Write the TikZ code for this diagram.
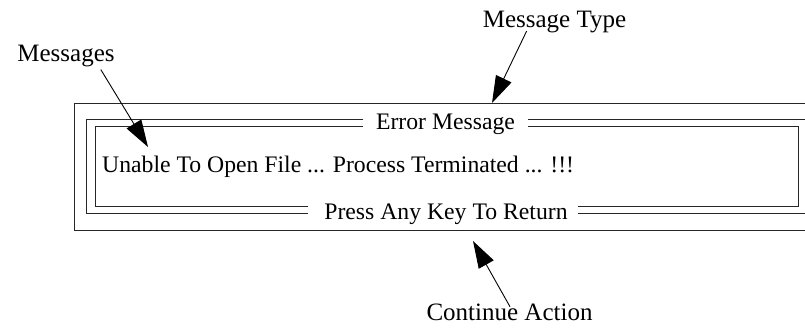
\documentclass[tikz,border=0pt]{standalone}
\usepackage{fontspec}
\setmainfont{Liberation Serif}
\usetikzlibrary{arrows.meta}
\begin{document}
\begin{tikzpicture}[x=1pt,y=-1pt,
  frame/.style={line width=1pt,draw=black!85},
  boxtext/.style={inner sep=0pt,anchor=base,font=\fontsize{23.7}{28}\selectfont},
  label/.style={inner sep=0pt,anchor=base,font=\fontsize{25}{30}\selectfont},
  pointer/.style={line width=0.9pt,-{Triangle[length=27pt,width=17pt]}}]
\useasboundingbox (0,0) rectangle (805,333);

% outer window border
\draw[frame] (74,103) rectangle (812,230.5);

% double frame, broken for the title and the prompt
\draw[frame] (363,119.5) -- (86.7,119.5) -- (86.7,213) -- (308,213);
\draw[frame] (578,213) -- (812,213) -- (812,119.5) -- (528,119.5);
\draw[frame] (363,126) -- (95,126) -- (95,206) -- (308,206);
\draw[frame] (578,206) -- (798,206) -- (798,126) -- (528,126);

% window contents
\node[boxtext] (title) at (445.5,129) {Error Message};
\node[boxtext,anchor=base west] (msg) at (102,172) {Unable To Open File ... Process Terminated ... !!!};
\node[boxtext] (prompt) at (446,219.3) {Press Any Key To Return};

% callout labels
\node[label] (lblmsg) at (66,61) {Messages};
\node[label] (lbltype) at (554.5,27) {Message Type};
\node[label] (lblcont) at (509.5,320) {Continue Action};

% arrow tips
\coordinate (tipmsg) at (148,147);
\coordinate (tiptype) at (492,103);
\coordinate (tipcont) at (473,241);

\draw[pointer] (lblmsg.south east) ++(-14,3) -- (tipmsg);
\draw[pointer] (lbltype.south west) ++(44,-1.5) -- (tiptype);
\draw[pointer] (lblcont.north) ++(0.5,3.5) -- (tipcont);
\end{tikzpicture}
\end{document}
